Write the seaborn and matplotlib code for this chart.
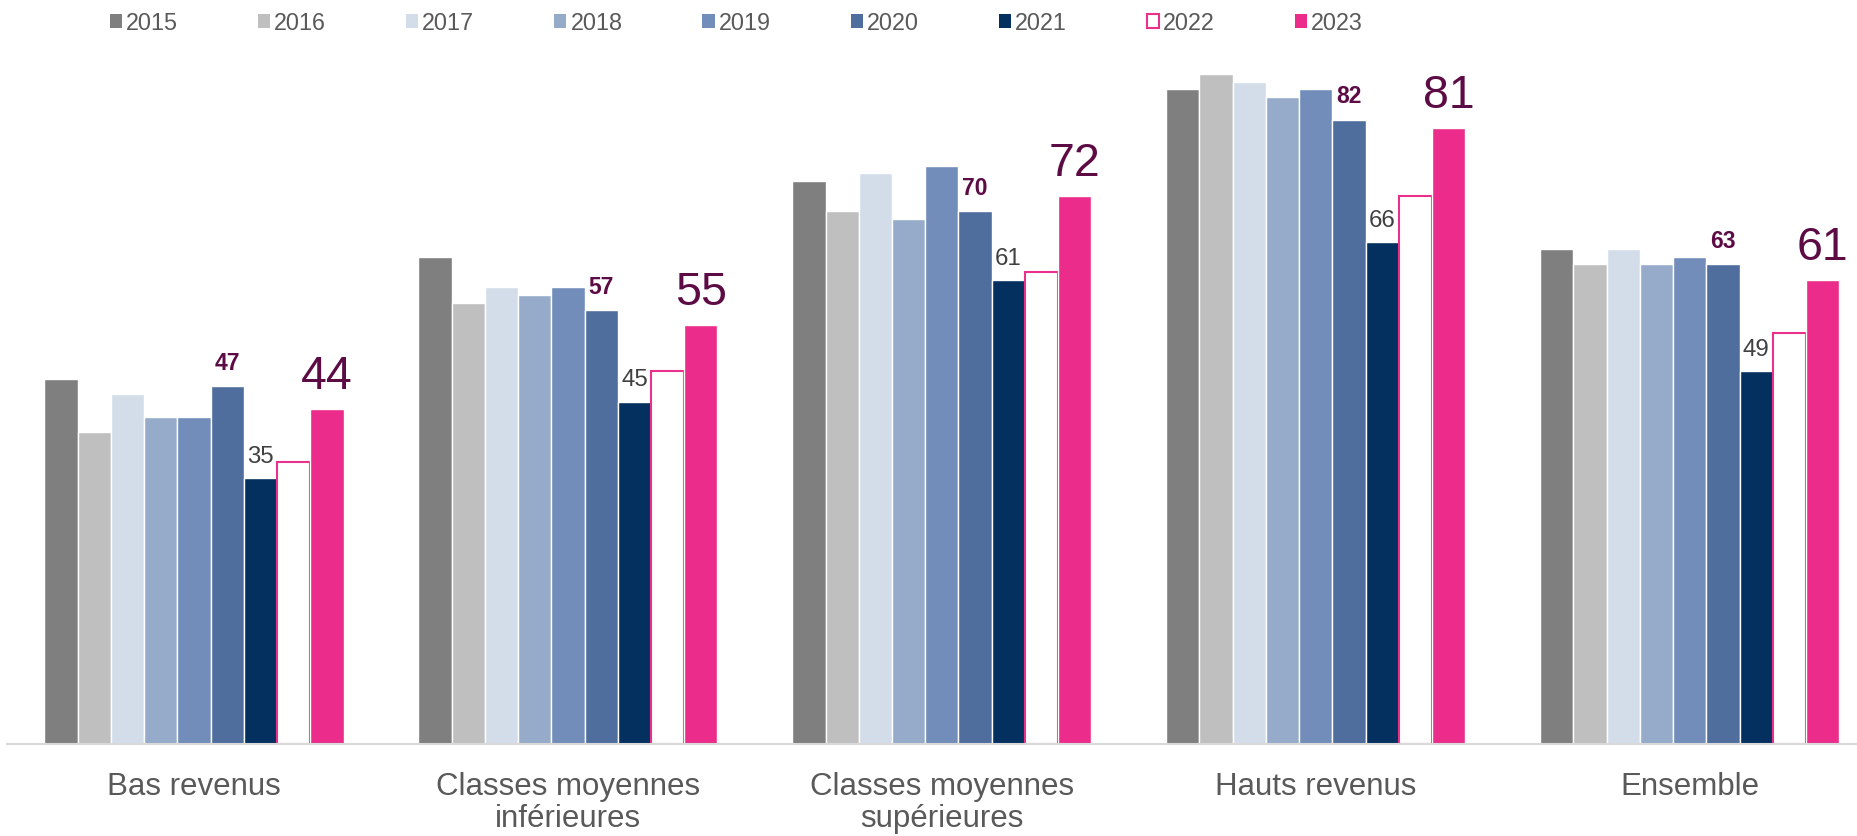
import matplotlib
matplotlib.use("Agg")
import matplotlib.pyplot as plt
from matplotlib.patches import Patch
import seaborn as sns
import pandas as pd

categories = ["Bas revenus", "Classes moyennes\ninférieures", "Classes moyennes\nsupérieures",
              "Hauts revenus", "Ensemble"]
years = ["2015", "2016", "2017", "2018", "2019", "2020", "2021", "2022", "2023"]
v2015 = [48, 64, 74, 86, 65]
v2016 = [41, 58, 70, 88, 63]
v2017 = [46, 60, 75, 87, 65]
v2018 = [43, 59, 69, 85, 63]
v2019 = [43, 60, 76, 86, 64]
v2020 = [47, 57, 70, 82, 63]
v2021 = [35, 45, 61, 66, 49]
v2022 = [37, 49, 62, 72, 54]
v2023 = [44, 55, 72, 81, 61]
series = [v2015, v2016, v2017, v2018, v2019, v2020, v2021, v2022, v2023]

colors = ["#7f7f7f", "#bfbfbf", "#d3dde9", "#96abca", "#728dba", "#4f6e9d",
          "#03305f", "#ffffff", "#eb2c8b"]
pink = "#e9308a"
purple = "#5c0b45"
grey_text = "#595959"

rows = []
for y, vals in zip(years, series):
    for c, v in zip(categories, vals):
        rows.append({"cat": c, "year": y, "val": v})
df = pd.DataFrame(rows)

sns.set_style("white")
plt.rcParams["font.family"] = ["Liberation Sans", "DejaVu Sans"]

W, H = 1858, 836
fig = plt.figure(figsize=(W / 100, H / 100), dpi=100)
ax = fig.add_axes([7 / W, 92 / H, 1851 / W, 685 / H])

sns.barplot(data=df, x="cat", y="val", hue="year", hue_order=years, order=categories,
            palette=colors, width=0.8, gap=0, saturation=1, errorbar=None,
            legend=False, ax=ax)

for p in ax.containers[7]:
    p.set_facecolor("white")
    p.set_edgecolor(pink)
    p.set_linewidth(1.5)

ax.bar_label(ax.containers[5], labels=[str(v) for v in v2020], padding=8.3,
             fontsize=16.5, fontweight="bold", color=purple)
ax.bar_label(ax.containers[6], labels=[str(v) for v in v2021], padding=7.2,
             fontsize=17.3, color="#404040")
ax.bar_label(ax.containers[8], labels=[str(v) for v in v2023], padding=7.2,
             fontsize=33.5, color=purple)

ax.set_xlim(-0.5, 4.45)
ax.set_ylim(0, 90)
ax.set_xlabel("")
ax.set_ylabel("")
ax.set_yticks([])
for s in ["top", "left", "right"]:
    ax.spines[s].set_visible(False)
ax.spines["bottom"].set_color("#d9d9d9")
ax.spines["bottom"].set_linewidth(1.5)
ax.tick_params(axis="x", length=0, pad=20, labelsize=22.5, labelcolor=grey_text)
for t in ax.get_xticklabels():
    t.set_linespacing(1.11)

handles = []
for y, c in zip(years, colors):
    if y == "2022":
        handles.append(Patch(facecolor="white", edgecolor=pink, linewidth=1.5))
    else:
        handles.append(Patch(facecolor=c, edgecolor="none"))
fig.legend(handles, years, ncol=9, loc="center left",
           bbox_to_anchor=(110 / W, 1 - 23 / H), frameon=False, fontsize=16.8,
           handlelength=0.52, handleheight=0.52, handletextpad=0.17,
           columnspacing=3.43, borderpad=0, borderaxespad=0, labelcolor=grey_text)

fig.savefig("out.png", dpi=100, facecolor="white")
